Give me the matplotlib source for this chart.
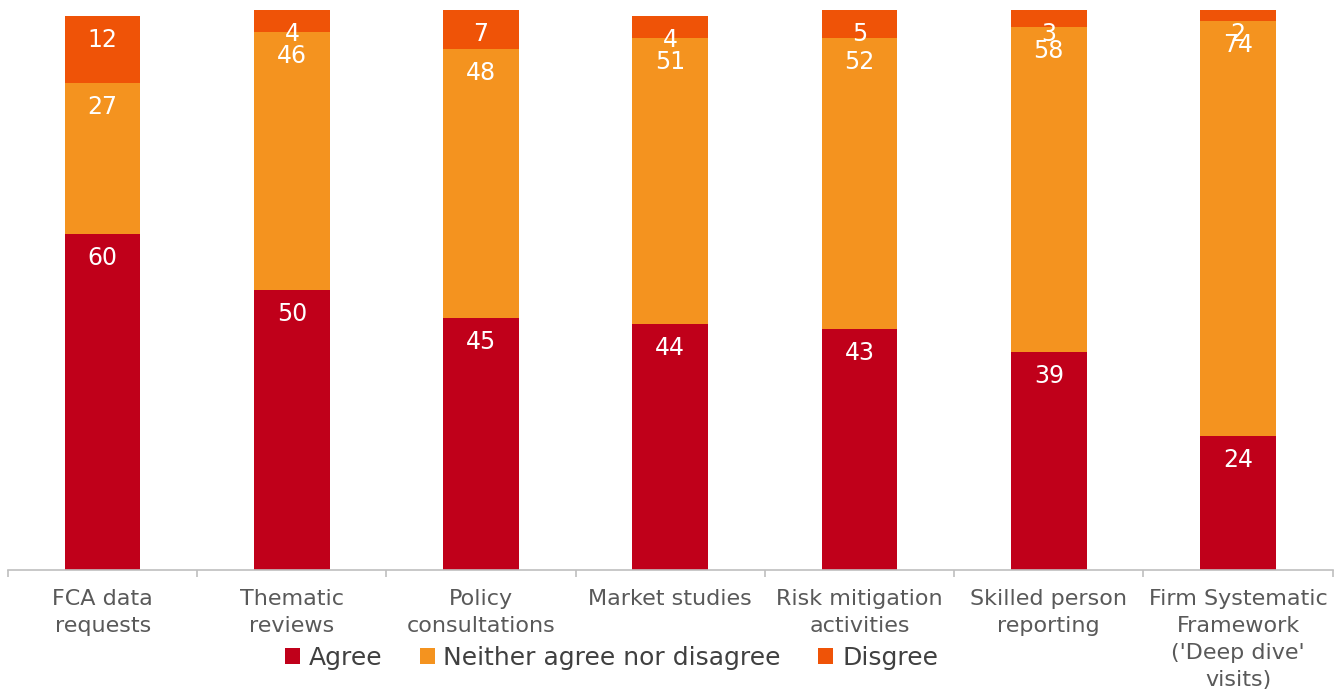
import numpy as np
import matplotlib
matplotlib.use("Agg")
import matplotlib.pyplot as plt

categories = [
    "FCA data\nrequests",
    "Thematic\nreviews",
    "Policy\nconsultations",
    "Market studies",
    "Risk mitigation\nactivities",
    "Skilled person\nreporting",
    "Firm Systematic\nFramework\n('Deep dive'\nvisits)",
]
agree = [60, 50, 45, 44, 43, 39, 24]
neither = [27, 46, 48, 51, 52, 58, 74]
disagree = [12, 4, 7, 4, 5, 3, 2]

series_names = ["Agree", "Neither agree nor disagree", "Disgree"]
colors = ["#C0001A", "#F4931F", "#EF5307"]

plt.rcParams["font.family"] = ["DejaVu Sans"]

fig = plt.figure(figsize=(13.38, 6.89), dpi=100)
ax = fig.add_axes([0.006, 0.1727, 0.99, 0.8128])

x = np.arange(len(categories))
bottom = np.zeros(len(categories))
for vals, name, col in zip([agree, neither, disagree], series_names, colors):
    vals = np.array(vals, dtype=float)
    ax.bar(x, vals, width=0.40, bottom=bottom, color=col, label=name)
    # value labels sit just inside the top of each segment
    for xi, b, v in zip(x, bottom, vals):
        ax.annotate(f"{int(v)}", xy=(xi, b + v), xytext=(0, -17.3),
                    textcoords="offset points", ha="center", va="center",
                    color="white", fontsize=17)
    bottom += vals

ax.set_xlim(-0.5, len(categories) - 0.5)
ax.set_ylim(0, 100)
ax.set_yticks([])
for s in ["top", "right", "left"]:
    ax.spines[s].set_visible(False)
ax.spines["bottom"].set_color("#BFBFBF")
ax.spines["bottom"].set_linewidth(1.2)

ax.set_xticks(x)
ax.set_xticklabels(categories, fontsize=16, color="#595959", linespacing=1.43)
ax.tick_params(axis="x", which="major", length=0, pad=14)
ax.set_xticks(np.arange(-0.5, len(categories)), minor=True)
ax.tick_params(axis="x", which="minor", length=5, width=1.2, color="#BFBFBF")

fig.legend(loc="center", bbox_to_anchor=(0.457, 0.045), ncol=3, frameon=False,
           fontsize=18, handlelength=0.6, handleheight=0.6, handletextpad=0.35,
           columnspacing=1.5, labelcolor="#404040")

fig.savefig("out.png", dpi=100)
